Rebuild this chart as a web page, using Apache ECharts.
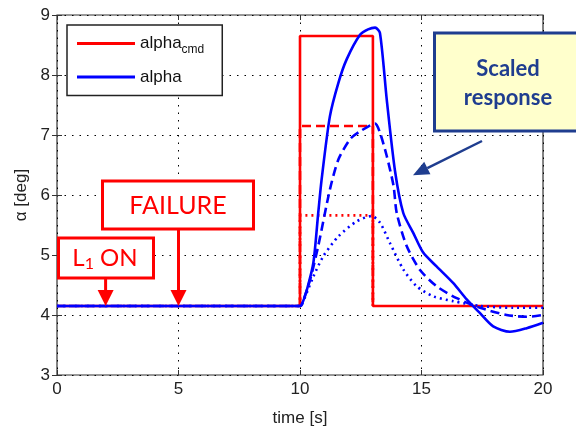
<!DOCTYPE html>
<html>
<head>
<meta charset="utf-8">
<script src="https://cdn.jsdelivr.net/npm/echarts@6/dist/echarts.min.js"></script>
<style>
  html, body { margin: 0; padding: 0; background: #fff; }
  #chart { width: 576px; height: 429px; }
</style>
</head>
<body>
<div id="chart"></div>
<script>
// Commanded angle of attack: trim level and three scaled pulse amplitudes (deg)
const cmdBase = 4.15;
const pulseStart = 10;
const pulseEnd = 13;
const pulseLevels = [8.65, 7.15, 5.66];

// Measured alpha responses (time in s, alpha in deg)
const alphaFullT = [0, 10.0, 10.07, 10.27, 10.55, 10.75, 10.89, 11.23, 11.58, 11.92, 12.47, 12.8, 13.09, 13.29, 13.57, 13.91, 14.25, 14.66, 15.07, 15.62, 16.31, 16.86, 17.41, 17.95, 18.64, 19.33, 20];
const alphaFullV = [4.15, 4.15, 4.17, 4.40, 4.87, 5.70, 6.26, 7.31, 7.87, 8.26, 8.67, 8.76, 8.79, 8.70, 7.59, 6.40, 5.70, 5.37, 5.04, 4.81, 4.53, 4.26, 4.03, 3.81, 3.72, 3.78, 3.87];

const alphaMidT = [0, 10.0, 10.07, 10.41, 10.75, 11.23, 11.58, 12.06, 12.47, 13.09, 13.29, 13.57, 13.85, 13.98, 14.39, 14.94, 15.62, 16.45, 17.41, 18.5, 19.33, 20];
const alphaMidV = [4.15, 4.15, 4.17, 4.58, 5.15, 6.09, 6.59, 6.93, 7.06, 7.19, 7.04, 6.65, 6.15, 5.70, 5.15, 4.75, 4.48, 4.28, 4.12, 4.00, 3.97, 4.00];

const alphaLowT = [0, 10.0, 10.07, 10.55, 10.96, 11.58, 12.33, 12.95, 13.29, 13.70, 14.25, 14.80, 15.49, 16.31, 17.41, 18.78, 20];
const alphaLowV = [4.15, 4.15, 4.17, 4.64, 4.98, 5.31, 5.56, 5.65, 5.54, 5.20, 4.76, 4.48, 4.31, 4.23, 4.15, 4.12, 4.12];

// Axis ranges and ticks
const xTicks = [0, 5, 10, 15, 20];
const yTicks = [3, 4, 5, 6, 7, 8, 9];

// Event callouts
const eventTimes = [2, 5];
const eventLabels = ['L1 ON', 'FAILURE'];

const zip = (t, v) => t.map((x, i) => [x, v[i]]);
const cmdFull = [[0, cmdBase], [pulseStart, cmdBase], [pulseStart, pulseLevels[0]], [pulseEnd, pulseLevels[0]], [pulseEnd, cmdBase], [20, cmdBase]];
const cmdPulse = lvl => [[pulseStart, cmdBase], [pulseStart, lvl], [pulseEnd, lvl], [pulseEnd, cmdBase]];

const RED = '#ff0000';
const BLUE = '#0000ff';
const NAVY = '#1f3d8f';
const tickFont = { fontFamily: 'Liberation Sans', fontSize: 17, color: '#222' };
const gridDots = { color: '#000', width: 1, type: [1.5, 6] };

const chart = echarts.init(document.getElementById('chart'), null, { renderer: 'canvas' });

const lineSeries = (name, data, color, type, z, smooth) => ({
  name, type: 'line', data, showSymbol: false, symbol: 'none', animation: false,
  xAxisIndex: 0, yAxisIndex: 0, z, smooth: smooth || false,
  lineStyle: { color, width: 2.6, type }, itemStyle: { color }
});

chart.setOption({
  animation: false,
  grid: {
    left: 57, right: 33, top: 15, bottom: 54, outerBoundsMode: 'none', containLabel: false,
    show: true, borderColor: '#333', borderWidth: 1.2, backgroundColor: '#fff'
  },
  xAxis: [{
    type: 'value', min: xTicks[0], max: xTicks[xTicks.length - 1], interval: 5,
    name: 'time [s]', nameLocation: 'middle', nameGap: 35,
    nameTextStyle: { fontFamily: 'Liberation Sans', fontSize: 17, color: '#222' },
    axisLine: { show: false }, axisTick: { inside: true, length: 5, lineStyle: { color: '#333' } },
    axisLabel: Object.assign({ margin: 6 }, tickFont),
    splitLine: { show: true, lineStyle: gridDots }
  }, {
    type: 'value', position: 'top', min: 0, max: 20, interval: 5,
    axisLine: { show: false }, axisTick: { inside: true, length: 5, lineStyle: { color: '#333' } },
    axisLabel: { show: false }, splitLine: { show: false }
  }],
  yAxis: [{
    type: 'value', min: yTicks[0], max: yTicks[yTicks.length - 1], interval: 1,
    name: 'α [deg]', nameLocation: 'middle', nameGap: 27, nameRotate: 90,
    nameTextStyle: { fontFamily: 'Liberation Sans', fontSize: 17, color: '#222' },
    axisLine: { show: false }, axisTick: { inside: true, length: 5, lineStyle: { color: '#333' } },
    axisLabel: Object.assign({ margin: 7 }, tickFont),
    splitLine: { show: true, lineStyle: gridDots }
  }, {
    type: 'value', position: 'right', min: 3, max: 9, interval: 1,
    axisLine: { show: false }, axisTick: { inside: true, length: 5, lineStyle: { color: '#333' } },
    axisLabel: { show: false }, splitLine: { show: false }
  }],
  legend: {
    left: 67, top: 25, orient: 'vertical',
    data: ['alpha_cmd', 'alpha'],
    backgroundColor: '#fff', borderColor: '#222', borderWidth: 1.5,
    padding: [10, 18, 10, 10], itemGap: 13, itemWidth: 58, itemHeight: 3, icon: 'rect',
    formatter: n => n === 'alpha_cmd' ? '{b|alpha}{s|cmd}' : '{b|alpha}',
    textStyle: {
      fontFamily: 'Liberation Sans', color: '#111',
      rich: {
        b: { fontSize: 17, fontFamily: 'Liberation Sans', color: '#111' },
        s: { fontSize: 12, fontFamily: 'Liberation Sans', color: '#111', padding: [12, 0, 0, 0] }
      }
    }
  },
  series: [
    lineSeries('alpha_cmd dashed', cmdPulse(pulseLevels[1]), RED, [9, 5], 2),
    lineSeries('alpha_cmd dotted', cmdPulse(pulseLevels[2]), RED, [2, 4], 2),
    lineSeries('alpha_cmd', cmdFull, RED, 'solid', 3),
    lineSeries('alpha dashed', zip(alphaMidT, alphaMidV), BLUE, [9, 5], 4, 0.25),
    lineSeries('alpha dotted', zip(alphaLowT, alphaLowV), BLUE, [2, 4], 4, 0.25),
    lineSeries('alpha', zip(alphaFullT, alphaFullV), BLUE, 'solid', 5, 0.25)
  ]
});

// Callout boxes and arrows, anchored on data coordinates
function drawCallouts() {
  const px = (t, v) => chart.convertToPixel({ xAxisIndex: 0, yAxisIndex: 0 }, [t, v]);
  const els = [];

  const downArrow = (x, yTop, yTip) => {
    els.push({ type: 'line', z: 20, shape: { x1: x, y1: yTop, x2: x, y2: yTip - 14 }, style: { stroke: RED, lineWidth: 3 } });
    els.push({ type: 'polygon', z: 20, shape: { points: [[x - 8, yTip - 16], [x + 8, yTip - 16], [x, yTip]] }, style: { fill: RED } });
  };

  // L1 ON
  const l1 = px(eventTimes[0], cmdBase);
  els.push({ type: 'rect', z: 20, shape: { x: 58.5, y: 238, width: 95, height: 40 }, style: { fill: '#fff', stroke: RED, lineWidth: 3 } });
  els.push({ type: 'text', z: 21, x: 105, y: 258, style: {
    text: '{m|L}{s|1}{m| ON}', align: 'center', verticalAlign: 'middle',
    rich: { m: { fontFamily: 'Lato', fontSize: 24, fill: RED }, s: { fontFamily: 'Lato', fontSize: 16, fill: RED, padding: [12, 0, 0, 0] } }
  } });
  downArrow(l1[0], 278, l1[1]);

  // FAILURE
  const fl = px(eventTimes[1], cmdBase);
  els.push({ type: 'rect', z: 20, shape: { x: 102.5, y: 181, width: 151, height: 48 }, style: { fill: '#fff', stroke: RED, lineWidth: 3 } });
  els.push({ type: 'text', z: 21, x: 178, y: 206, style: { text: eventLabels[1], align: 'center', verticalAlign: 'middle', fontFamily: 'Lato', fontSize: 25, fill: RED } });
  downArrow(fl[0], 229, fl[1]);

  // Scaled response note
  els.push({ type: 'rect', z: 20, shape: { x: 434.5, y: 33, width: 150, height: 98 }, style: { fill: '#ffffcc', stroke: NAVY, lineWidth: 3 } });
  els.push({ type: 'text', z: 21, x: 508, y: 83, style: {
    text: 'Scaled\nresponse', align: 'center', verticalAlign: 'middle', lineHeight: 29,
    fontFamily: 'Lato', fontWeight: 'bold', fontSize: 22, fill: NAVY
  } });
  const tip = px(14.65, 6.33);
  const tail = [482, 141];
  const ang = Math.atan2(tip[1] - tail[1], tip[0] - tail[0]);
  const hl = 16, hw = 7;
  const bx = tip[0] - hl * Math.cos(ang), by = tip[1] - hl * Math.sin(ang);
  els.push({ type: 'line', z: 20, shape: { x1: tail[0], y1: tail[1], x2: bx, y2: by }, style: { stroke: NAVY, lineWidth: 2.5 } });
  els.push({ type: 'polygon', z: 20, shape: { points: [
    [tip[0], tip[1]],
    [bx + hw * Math.sin(ang), by - hw * Math.cos(ang)],
    [bx - hw * Math.sin(ang), by + hw * Math.cos(ang)]
  ] }, style: { fill: NAVY } });

  chart.setOption({ graphic: { elements: els } });
}
drawCallouts();
</script>
</body>
</html>
